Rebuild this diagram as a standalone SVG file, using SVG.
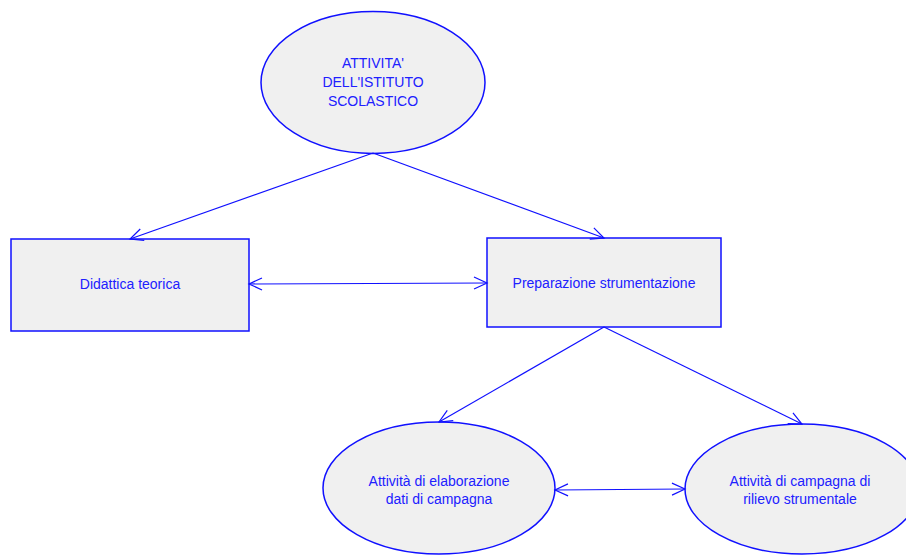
<svg xmlns="http://www.w3.org/2000/svg" width="906" height="555" viewBox="0 0 906 555">
<style>
.shape{fill:#f0f0f0;stroke:#1010ff;stroke-width:1.5}
.lbl{font-family:"Liberation Sans",Arial,sans-serif;font-size:14px;fill:#2020ff;text-anchor:middle}
.conn{stroke:#1010ff;stroke-width:1.2;fill:none}
</style>
<defs>
<marker id="arr" markerUnits="userSpaceOnUse" markerWidth="16" markerHeight="16" refX="14" refY="8" orient="auto-start-reverse">
<path d="M1,2 L14,8 L1,14" fill="none" stroke="#1010ff" stroke-width="1.2"/>
</marker>
</defs>
<rect width="906" height="555" fill="#ffffff"/>
<g id="n-attivita">
<ellipse class="shape" cx="373" cy="82.5" rx="112" ry="71"/>
<text class="lbl" x="373" y="68">ATTIVITA'</text>
<text class="lbl" x="373" y="87">DELL'ISTITUTO</text>
<text class="lbl" x="373" y="106">SCOLASTICO</text>
</g>
<g id="n-didattica">
<rect class="shape" x="11" y="239" width="238" height="92"/>
<text class="lbl" x="130" y="289">Didattica teorica</text>
</g>
<g id="n-preparazione">
<rect class="shape" x="487" y="238" width="234" height="89"/>
<text class="lbl" x="604" y="288">Preparazione strumentazione</text>
</g>
<g id="n-elaborazione">
<ellipse class="shape" cx="439" cy="488" rx="116" ry="66"/>
<text class="lbl" x="439" y="486">Attività di elaborazione</text>
<text class="lbl" x="439" y="504">dati di campagna</text>
</g>
<g id="n-campagna">
<ellipse class="shape" cx="802" cy="489" rx="117" ry="65"/>
<text class="lbl" x="800" y="486">Attività di campagna di</text>
<text class="lbl" x="800" y="504">rilievo strumentale</text>
</g>
<g id="connectors">
<line class="conn" x1="373" y1="153" x2="130" y2="239" marker-end="url(#arr)"/>
<line class="conn" x1="373" y1="153" x2="604" y2="238" marker-end="url(#arr)"/>
<line class="conn" x1="249" y1="284" x2="487" y2="283" marker-start="url(#arr)" marker-end="url(#arr)"/>
<line class="conn" x1="604" y1="327" x2="439" y2="422" marker-end="url(#arr)"/>
<line class="conn" x1="604" y1="327" x2="802" y2="424" marker-end="url(#arr)"/>
<line class="conn" x1="555" y1="490" x2="685" y2="489" marker-start="url(#arr)" marker-end="url(#arr)"/>
</g>
</svg>
